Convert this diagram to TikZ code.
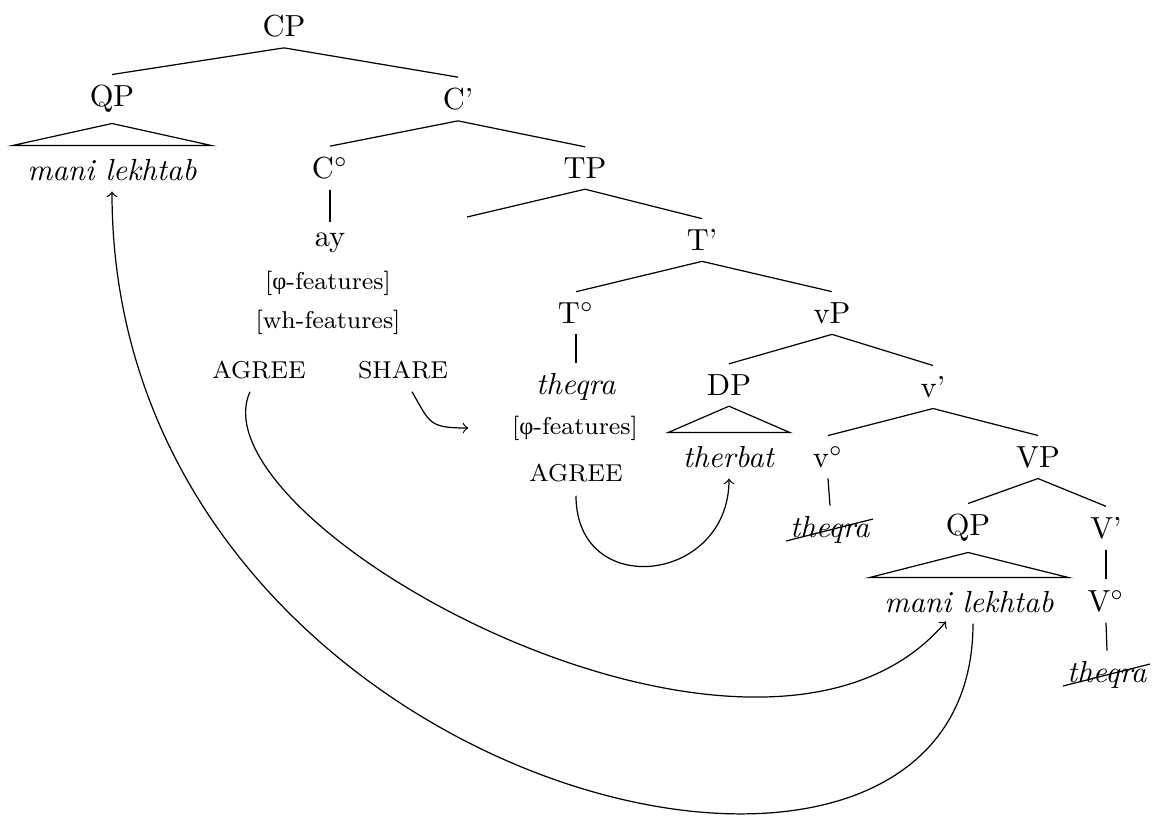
\documentclass[tikz,border=0pt]{standalone}
\usepackage{fontspec}
\newfontfamily\grk{Liberation Serif}
\begin{document}
\begin{tikzpicture}[x=0.3279pt,y=-0.3279pt,
  feat/.style={font=\footnotesize},
  oper/.style={font=\footnotesize},
  movearrow/.style={->}]
\useasboundingbox (0,0) rectangle (1157,815);

% ---- labels of the tree ----
\node (cp)      at (284,26)   {CP};
\node (qp1)     at (112,99)   {QP};
\node (cbar)    at (458,99)   {C'};
\node (mani1)   at (112,170)  {\textit{mani lekhtab}};
\node (c0)      at (330,168)  {C$^\circ$};
\node (tp)      at (585,168)  {TP};
\node (ay)      at (330,243)  {ay};
\node[feat] (phiC) at (328,283) {[{\grk φ}-features]};
\node[feat] (wh)   at (328,322) {[wh-features]};
\node[oper] (agreeC) at (259,370) {AGREE};
\node[oper] (share)  at (403,370) {SHARE};
\coordinate (tspec) at (467,217);
\node (tbar)    at (702,240)  {T'};
\node (t0)      at (576,313)  {T$^\circ$};
\node (vpl)     at (832,313)  {vP};
\node (theqraT) at (576,387)  {\textit{theqra}};
\node[feat] (phiT)   at (575,428) {[{\grk φ}-features]};
\node[oper] (agreeT) at (576,473) {AGREE};
\node (dp)      at (729,385)  {DP};
\node (vbar)    at (933,387)  {v'};
\node (therbat) at (729,457)  {\textit{therbat}};
\node (v0)      at (828,457)  {v$^\circ$};
\node (bigvp)   at (1038,457) {VP};
\node (theqrav) at (830,530)  {\textit{theqra}};
\node (qp2)     at (968,528)  {QP};
\node (Vbar)    at (1106,528) {V'};
\node (mani2)   at (969,602)  {\textit{mani lekhtab}};
\node (V0)      at (1106,601) {V$^\circ$};
\node (theqraV) at (1107,675) {\textit{theqra}};

% ---- branches ----
\draw (cp.south) -- (qp1.north) (cp.south) -- (cbar.north);
\draw (cbar.south) -- (c0.north) (cbar.south) -- (tp.north);
\draw (tp.south) -- (tspec) (tp.south) -- (tbar.north);
\draw (tbar.south) -- (t0.north) (tbar.south) -- (vpl.north);
\draw (vpl.south) -- (dp.north) (vpl.south) -- (vbar.north);
\draw (vbar.south) -- (v0.north) (vbar.south) -- (bigvp.north);
\draw (bigvp.south) -- (qp2.north) (bigvp.south) -- (Vbar.north);
\draw (c0.south) -- (ay.north);
\draw (t0.south) -- (theqraT.north);
\draw (v0.south) -- (theqrav.north);
\draw (Vbar.south) -- (V0.north);
\draw (V0.south) -- (theqraV.north);

% ---- roofs ----
\draw (qp1.south) -- ([shift={(-4,-3)}]mani1.north west) -- ([shift={(4,-3)}]mani1.north east) -- cycle;
\draw (dp.south) -- ([shift={(-4,-3)}]therbat.north west) -- ([shift={(4,-3)}]therbat.north east) -- cycle;
\draw (qp2.south) -- ([shift={(-4,-3)}]mani2.north west) -- ([shift={(4,-3)}]mani2.north east) -- cycle;

% ---- deleted copies ----
\draw ([shift={(-44,11)}]theqrav.center) -- ([shift={(43,-11)}]theqrav.center);
\draw ([shift={(-44,11)}]theqraV.center) -- ([shift={(43,-11)}]theqraV.center);

% ---- operations ----
\draw[movearrow] ([shift={(9,2)}]share.south) .. controls +(18,31) and +(-40,0) .. ([shift={(-33,0)}]phiT.west);
\draw[movearrow] ([shift={(-9,2)}]agreeC.south) .. controls +(-60,132) and +(-186,219) .. ([shift={(-23,-2)}]mani2.south);
\draw[movearrow] ([shift={(0,3)}]agreeT.south) .. controls +(0,105) and +(0,105) .. (therbat.south);
\draw[movearrow] ([shift={(4,0)}]mani2.south) .. controls +(0,380) and +(0,600) .. (mani1.south);
\end{tikzpicture}
\end{document}
